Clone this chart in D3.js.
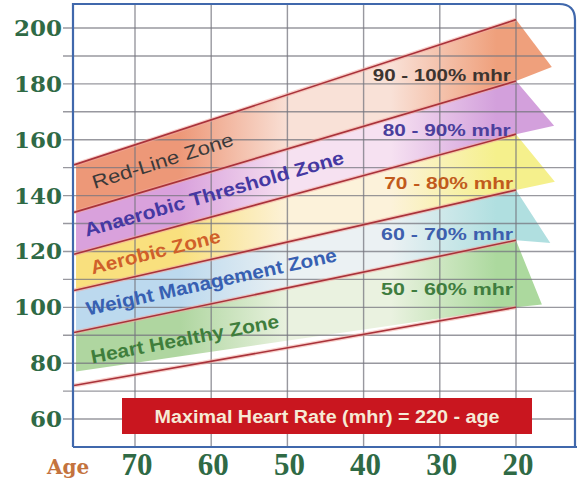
<!DOCTYPE html>
<html>
<head>
<meta charset="utf-8">
<script src="https://cdn.jsdelivr.net/npm/d3@7"></script>
<style>
  html, body { margin: 0; padding: 0; background: #fff; }
  svg { display: block; }
</style>
</head>
<body>
<div id="chart"></div>
<script>
/*
 * Heart rate training zones by age
 */

// zone boundary lines, value at the left edge (age 78) and at age 20
var lineAges = [78, 20];
var lineLeft = [151, 134, 119, 106, 91, 72];
var lineRight = [203, 181, 162, 142, 124, 100];

// zones, top to bottom
var zoneNames = ["Red-Line Zone", "Anaerobic Threshold Zone", "Aerobic Zone", "Weight Management Zone", "Heart Healthy Zone"];
var zoneRanges = ["90 - 100% mhr", "80 - 90% mhr", "70 - 80% mhr", "60 - 70% mhr", "50 - 60% mhr"];

// lower edge of each colour fill (heart zone stops short of its line)
var fillFloorLeft = [134, 119, 106, 91, 77];
var fillFloorRight = [181, 162, 142, 124, 100];

// arrow tips on the right side
var tipAges = [15.3, 15.0, 14.9, 15.5, 16.6];
var tipValues = [186, 165, 145, 123, 101];

// label anchors
var nameAges = [66.1, 59.4, 67.1, 59.8, 63.3];
var nameValues = [150.2, 138.4, 117.6, 106.8, 86.4];
var rangeAges = [38.8, 37.5, 37.3, 37.7, 37.7];
var rangeValues = [181, 161.5, 142.5, 124, 104.5];

// axis ticks
var yTicks = [200, 180, 160, 140, 120, 100, 80, 60];
var ageTicks = [70, 60, 50, 40, 30, 20];

// styling per zone
var zoneColors = [
  ["#ed9878", "#f9e1d7", "#efa07c"],
  ["#d9a1dc", "#f6e1f1", "#d3a0dc"],
  ["#f9e07e", "#fcf2da", "#f5f08c"],
  ["#bcd9ee", "#ebf1f3", "#b0dfe0"],
  ["#afd6a0", "#eaf2e0", "#acd99e"]
];
var nameColors = ["#3c3a3a", "#4538a2", "#d0602a", "#3760b2", "#3f7e3c"];
var rangeColors = ["#3c3430", "#4a3f9c", "#c15a1c", "#3d5fae", "#3f7d3f"];
var nameLengths = [147, 269, 133, 256, 191];
var rangeLengths = [138, 128, 129, 132, 132];

var width = 577, height = 481;

var x = d3.scaleLinear().domain([70, 20]).range([135, 516]);
var y = d3.scaleLinear().domain([50, 200]).range([447, 28]);

var frame = { left: 73, right: 575, top: 4, bottom: 447 };

var svg = d3.select("#chart").append("svg")
  .attr("width", width).attr("height", height);

var defs = svg.append("defs");

// gradients for the zone bands
zoneColors.forEach(function(c, i) {
  var g = defs.append("linearGradient")
    .attr("id", "zone" + i)
    .attr("gradientUnits", "userSpaceOnUse")
    .attr("x1", x(lineAges[0])).attr("x2", x(15)).attr("y1", 0).attr("y2", 0);
  g.append("stop").attr("offset", 0).attr("stop-color", c[0]);
  g.append("stop").attr("offset", 0.22).attr("stop-color", c[0]);
  g.append("stop").attr("offset", 0.45).attr("stop-color", c[1]);
  g.append("stop").attr("offset", 0.66).attr("stop-color", c[1]);
  g.append("stop").attr("offset", 0.88).attr("stop-color", c[2]);
  g.append("stop").attr("offset", 1).attr("stop-color", c[2]);
});

// zone bands with arrow tips
zoneNames.forEach(function(name, i) {
  var pts = [
    [x(lineAges[0]) + 2, y(lineLeft[i])],
    [x(lineAges[1]), y(lineRight[i])],
    [x(tipAges[i]), y(tipValues[i])],
    [x(lineAges[1]), y(fillFloorRight[i])],
    [x(lineAges[0]) + 2, y(fillFloorLeft[i])]
  ];
  svg.append("path")
    .attr("d", "M" + pts.join("L") + "Z")
    .style("fill", "url(#zone" + i + ")");
});

// grid
var grid = svg.append("g").attr("class", "grid")
  .style("stroke", "#76767f").style("stroke-width", 1.4).style("stroke-opacity", 0.75);

grid.selectAll("line.h").data(d3.range(60, 201, 10)).enter().append("line")
  .attr("x1", 63).attr("x2", frame.right)
  .attr("y1", function(d) { return y(d); }).attr("y2", function(d) { return y(d); });

grid.selectAll("line.v").data(ageTicks).enter().append("line")
  .attr("x1", function(d) { return x(d); }).attr("x2", function(d) { return x(d); })
  .attr("y1", frame.top).attr("y2", frame.bottom);

// zone boundary lines
var lines = svg.append("g");
lineLeft.forEach(function(v, i) {
  var x1 = x(lineAges[0]), y1 = y(v), x2 = x(lineAges[1]), y2 = y(lineRight[i]);
  lines.append("line").attr("x1", x1).attr("y1", y1).attr("x2", x2).attr("y2", y2)
    .style("stroke", "#f2a9a0").style("stroke-width", 4).style("stroke-opacity", 0.55);
  lines.append("line").attr("x1", x1).attr("y1", y1).attr("x2", x2).attr("y2", y2)
    .style("stroke", "#a9323a").style("stroke-width", 1.6);
});

// frame
svg.append("path")
  .attr("d", "M" + frame.left + "," + frame.bottom + "L" + frame.left + "," + frame.top +
    "L" + (frame.right - 16) + "," + frame.top +
    "Q" + frame.right + "," + frame.top + " " + frame.right + "," + (frame.top + 16) +
    "L" + frame.right + "," + frame.bottom)
  .style("fill", "none").style("stroke", "#4068ac").style("stroke-width", 2.2);
svg.append("line")
  .attr("x1", frame.left).attr("x2", width).attr("y1", frame.bottom).attr("y2", frame.bottom)
  .style("stroke", "#4068ac").style("stroke-width", 2.2);

// zone names along the bands
var slopeSpan = x(lineAges[1]) - x(lineAges[0]);
zoneNames.forEach(function(name, i) {
  var dyL = (y(lineLeft[i]) + y(lineLeft[i + 1])) / 2;
  var dyR = (y(lineRight[i]) + y(lineRight[i + 1])) / 2;
  var angle = Math.atan2(dyR - dyL, slopeSpan) * 180 / Math.PI;
  svg.append("text")
    .attr("transform", "translate(" + x(nameAges[i]) + "," + y(nameValues[i]) + ") rotate(" + angle + ")")
    .attr("text-anchor", "middle")
    .attr("textLength", nameLengths[i])
    .attr("lengthAdjust", "spacingAndGlyphs")
    .style("font-family", "'Liberation Sans', Arial, sans-serif")
    .style("font-size", "19px")
    .style("font-weight", i == 0 ? "normal" : "bold")
    .style("fill", nameColors[i])
    .text(name);
});

// percentage labels on the right
zoneRanges.forEach(function(label, i) {
  svg.append("text")
    .attr("x", x(rangeAges[i])).attr("y", y(rangeValues[i]))
    .attr("textLength", rangeLengths[i])
    .attr("lengthAdjust", "spacingAndGlyphs")
    .style("font-family", "'Liberation Sans', Arial, sans-serif")
    .style("font-size", "17px")
    .style("font-weight", "bold")
    .style("fill", rangeColors[i])
    .text(label);
});

// y axis labels
svg.selectAll("text.ytick").data(yTicks).enter().append("text")
  .attr("class", "ytick")
  .attr("x", 62).attr("y", function(d) { return y(d) + 8; })
  .attr("text-anchor", "end")
  .style("font-family", "'DejaVu Serif', serif")
  .style("font-size", "23px")
  .style("font-weight", "bold")
  .style("fill", "#2f6a45")
  .text(function(d) { return d; });

// x axis labels
svg.selectAll("text.xtick").data(ageTicks).enter().append("text")
  .attr("class", "xtick")
  .attr("x", function(d) { return x(d) + 2; }).attr("y", 475)
  .attr("text-anchor", "middle")
  .style("font-family", "'Liberation Serif', serif")
  .style("font-size", "31px")
  .style("font-weight", "bold")
  .style("fill", "#2f6a45")
  .text(function(d) { return d; });

svg.append("text")
  .attr("x", 47).attr("y", 474)
  .style("font-family", "'DejaVu Serif', serif")
  .style("font-size", "20px")
  .style("font-weight", "bold")
  .style("fill", "#c4733e")
  .text("Age");

// formula box
svg.append("rect")
  .attr("x", 122).attr("y", 398).attr("width", 410).attr("height", 36)
  .style("fill", "#c9161f");
svg.append("text")
  .attr("x", 327).attr("y", 423)
  .attr("text-anchor", "middle")
  .attr("textLength", 345)
  .attr("lengthAdjust", "spacingAndGlyphs")
  .style("font-family", "'Liberation Sans', Arial, sans-serif")
  .style("font-size", "18px")
  .style("font-weight", "bold")
  .style("fill", "#f6ead6")
  .text("Maximal Heart Rate (mhr) = 220 - age");
</script>
</body>
</html>
